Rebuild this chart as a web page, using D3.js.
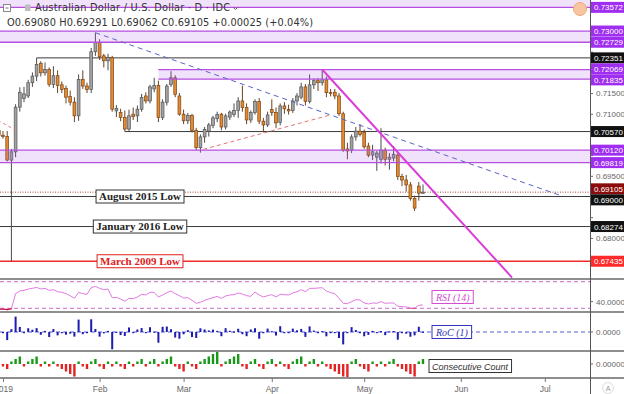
<!DOCTYPE html>
<html><head><meta charset="utf-8">
<script src="https://cdn.jsdelivr.net/npm/d3@7"></script>
<style>body{margin:0;background:#fff}svg{display:block}</style>
</head><body><svg id="c" width="624" height="394"></svg>
<script>
// ---------------- DATA ----------------
const firstIndex = -1; // trading-day index of first candle (Dec 31, 2018); 0 = Jan 1, 2019
const opens  = [0.7060,0.7048,0.7045,0.6988,0.7008,0.7116,0.7137,0.7143,0.7175,0.7191,0.7222,0.7199,0.7207,0.7171,0.7192,0.7170,0.7161,0.7142,0.7128,0.7095,0.7183,0.7167,0.7159,0.7250,0.7272,0.7240,0.7228,0.7236,0.7107,0.7103,0.7091,0.7063,0.7099,0.7095,0.7111,0.7143,0.7131,0.7160,0.7168,0.7091,0.7128,0.7171,0.7187,0.7143,0.7099,0.7083,0.7096,0.7060,0.7018,0.7044,0.7058,0.7072,0.7088,0.7099,0.7068,0.7092,0.7098,0.7108,0.7131,0.7115,0.7085,0.7103,0.7130,0.7082,0.7073,0.7110,0.7103,0.7079,0.7119,0.7110,0.7108,0.7131,0.7140,0.7165,0.7130,0.7170,0.7180,0.7175,0.7182,0.7151,0.7152,0.7143,0.7100,0.7015,0.7012,0.7044,0.7058,0.7055,0.7022,0.7000,0.6995,0.6990,0.7012,0.6990,0.6993,0.7000,0.6948,0.6940,0.6928,0.6895,0.6925,0.69080];
const highs  = [0.7068,0.7058,0.7058,0.7015,0.7123,0.7164,0.7165,0.7182,0.7200,0.7235,0.7227,0.7224,0.7212,0.7215,0.7205,0.7178,0.7168,0.7156,0.7140,0.7195,0.7205,0.7175,0.7259,0.7296,0.7280,0.7245,0.7245,0.7240,0.7121,0.7112,0.7108,0.7110,0.7115,0.7120,0.7148,0.7152,0.7170,0.7187,0.7180,0.7135,0.7172,0.7203,0.7193,0.7150,0.7110,0.7102,0.7100,0.7066,0.7050,0.7068,0.7078,0.7095,0.7105,0.7102,0.7100,0.7108,0.7125,0.7140,0.7168,0.7125,0.7108,0.7135,0.7138,0.7090,0.7105,0.7135,0.7115,0.7125,0.7128,0.7122,0.7138,0.7150,0.7175,0.7172,0.7195,0.7185,0.7186,0.7207,0.7190,0.7160,0.7160,0.7150,0.7105,0.7030,0.7050,0.7068,0.7075,0.7062,0.7030,0.7025,0.7010,0.7065,0.7018,0.7005,0.7022,0.7005,0.6955,0.6952,0.6935,0.6902,0.6935,0.69291];
const lows   = [0.7035,0.7040,0.6985,0.6744,0.6995,0.7105,0.7128,0.7138,0.7165,0.7179,0.7190,0.7192,0.7165,0.7162,0.7150,0.7150,0.7125,0.7120,0.7080,0.7083,0.7160,0.7150,0.7150,0.7240,0.7230,0.7212,0.7205,0.7105,0.7092,0.7082,0.7057,0.7058,0.7085,0.7080,0.7105,0.7125,0.7125,0.7152,0.7080,0.7085,0.7120,0.7165,0.7140,0.7095,0.7075,0.7075,0.7055,0.7012,0.7006,0.7030,0.7045,0.7065,0.7080,0.7060,0.7062,0.7085,0.7092,0.7090,0.7105,0.7075,0.7078,0.7098,0.7075,0.7055,0.7068,0.7095,0.7065,0.7072,0.7100,0.7098,0.7102,0.7120,0.7135,0.7120,0.7125,0.7160,0.7155,0.7168,0.7140,0.7142,0.7135,0.7095,0.7008,0.6990,0.7005,0.7035,0.7045,0.7015,0.6995,0.6988,0.6962,0.6980,0.6975,0.6965,0.6985,0.6940,0.6925,0.6912,0.6890,0.6865,0.6890,0.69062];
const closes = [0.7048,0.7045,0.6988,0.7008,0.7116,0.7152,0.7148,0.7175,0.7191,0.7219,0.7199,0.7207,0.7171,0.7192,0.7168,0.7159,0.7140,0.7128,0.7095,0.7183,0.7167,0.7159,0.7250,0.7272,0.7238,0.7228,0.7236,0.7111,0.7113,0.7091,0.7063,0.7095,0.7093,0.7111,0.7139,0.7131,0.7165,0.7168,0.7091,0.7128,0.7167,0.7187,0.7147,0.7099,0.7083,0.7096,0.7060,0.7018,0.7044,0.7062,0.7073,0.7090,0.7098,0.7068,0.7095,0.7104,0.7108,0.7131,0.7115,0.7085,0.7103,0.7130,0.7082,0.7073,0.7097,0.7103,0.7078,0.7119,0.7112,0.7107,0.7131,0.7143,0.7165,0.7130,0.7170,0.7180,0.7175,0.7182,0.7151,0.7149,0.7143,0.7100,0.7012,0.7010,0.7044,0.7058,0.7050,0.7020,0.7000,0.7008,0.7005,0.7012,0.6990,0.6995,0.7002,0.6948,0.6940,0.6928,0.6895,0.6872,0.6908,0.69105];
const rsiValues = [28.5,29,28,29.5,52,56,57,59,60,61.5,59,60,57,58,55,54,52,49,45,54,52,51,61,63,60,58,59,46,46.5,44,40.5,45,44.5,47,51,50,54,54,47,50,53.5,56,52,49,45.5,46,42,37.5,39,42,44,46,48,45,48.5,50,50.5,53,51.5,49,48,54.5,50,47,49,50.5,47,51,50.5,50,53,55,58,55,60,60,60.5,61,56,53.5,52,45,37.5,37,40,43,42.5,38,36.5,38,37.5,40,37.5,38,38,33,32.5,32,30.5,30.2,34.5,35];

const monthTickIndex  = [0,23,43,64,86,109,129];
const monthTickLabels = ["2019","Feb","Mar","Apr","May","Jun","Jul"];
const priceTickValues = [0.675,0.680,0.685,0.690,0.695,0.700,0.705,0.710,0.715,0.720,0.725,0.730,0.735];

// horizontal levels (value, first index)
const levelValues = [0.72351,0.70570,0.69000,0.68274];
const levelStarts = [8,29,-2,-2];
const closeLine = 0.69105;
const march2009Low = 0.67435;
// zones
const zoneTops    = [0.7380,0.73000,0.72069,0.70120];
const zoneBottoms = [0.73572,0.72729,0.71835,0.69819];
const zoneStarts  = [-2,-2,37,-2];
// trend lines [index, price]
const trendBlue    = [[22,0.7296],[132.6,0.6903]];
const trendMagenta = [[76,0.7207],[121.2,0.6704]];
const trendRedUp   = [[47.7,0.7014],[77.9,0.7097]];
const trendRedDown = [[-1.2,0.7084],[2.9,0.7061]];
// annotations
const annotationTexts  = ["August 2015 Low","January 2016 Low","March 2009 Low"];
const annotationValues = [0.69000,0.68274,0.67435];
// right-axis price tags
const tagValues = [0.73572,0.73000,0.72729,0.72351,0.72069,0.71835,0.70570,0.70120,0.69819,0.69105,0.69000,0.68274,0.67435];
const tagKinds  = ["zone","zone","zone","level","zone","zone","level","zone","zone","close","level","level","low"];
const headerTitle = "Australian Dollar / U.S. Dollar · D · IDC";
const headerOHLC  = "O0.69080  H0.69291  L0.69062  C0.69105  +0.00025 (+0.04%)";

// ---------------- CHART ----------------
const svg = d3.select("#c");
const PR = 590, W = 624;
const x = d3.scaleLinear().domain([0,100]).range([3,423]);
const yMain = d3.scaleLinear().domain([0.6703,0.7375]).range([278,0]);
const yRsi = d3.scaleLinear().domain([30,70]).range([308.3,281.7]);
const yRoc = d3.scaleLinear().domain([0,1]).range([332,322]);
const yCc  = d3.scaleLinear().domain([0,1]).range([364,361.5]);

const candles = opens.map((o,k)=>({i:firstIndex+k,o,h:highs[k],l:lows[k],c:closes[k]}));
const roc = candles.map((d,k)=> k===0?null:(d.c-candles[k-1].c)/candles[k-1].c*100);
const cc = []; candles.forEach((d,k)=>{ if(k===0){cc.push(0);return;}
  const p=candles[k-1].c, prev=cc[k-1];
  if(d.c>p) cc.push(prev>0?prev+1:1); else if(d.c<p) cc.push(prev<0?prev-1:-1); else cc.push(0); });

svg.append("rect").attr("width",W).attr("height",394).attr("fill","#fff");
const defs = svg.append("defs");
function clip(id,y0,h){defs.append("clipPath").attr("id",id).append("rect").attr("x",0).attr("y",y0).attr("width",PR).attr("height",h);}
clip("cm",0,278); clip("cr",280,31); clip("cro",313,37); clip("cc",352,25);
defs.append("clipPath").attr("id","crlow").append("rect").attr("x",0).attr("y",yRsi(30)).attr("width",PR).attr("height",20);

const gm = svg.append("g").attr("clip-path","url(#cm)");
levelValues.forEach((v,k)=>{
  gm.append("line").attr("x1",x(levelStarts[k])).attr("x2",PR).attr("y1",yMain(v)).attr("y2",yMain(v))
    .attr("stroke","#3a3a3a").attr("stroke-width",1);
});
gm.append("line").attr("x1",0).attr("x2",PR).attr("y1",yMain(closeLine)).attr("y2",yMain(closeLine))
  .attr("stroke","#a04a3a").attr("stroke-width",1).attr("stroke-dasharray","1,1.5");
gm.append("line").attr("x1",0).attr("x2",PR).attr("y1",yMain(march2009Low)).attr("y2",yMain(march2009Low))
  .attr("stroke","#ee2a2a").attr("stroke-width",1.5);

// candles
const cg = gm.append("g");
candles.forEach(d=>{
  const up = d.c>=d.o;
  const cx = x(d.i);
  cg.append("line").attr("x1",cx).attr("x2",cx).attr("y1",yMain(d.h)).attr("y2",yMain(d.l))
    .attr("stroke", up?"#4a4a4a":"#6a4220").attr("stroke-width",1);
  const yt=yMain(Math.max(d.o,d.c)), yb=yMain(Math.min(d.o,d.c));
  cg.append("rect").attr("x",cx-1.4).attr("y",yt).attr("width",2.8).attr("height",Math.max(0.8,yb-yt))
    .attr("fill", up?"#a3a3a3":"#e58a2e").attr("stroke", up?"#555":"#7a4515").attr("stroke-width",0.7);
});

// zones
zoneTops.forEach((t,k)=>{
  const x0=x(zoneStarts[k]);
  gm.append("rect").attr("x",x0).attr("y",yMain(t)).attr("width",PR-x0).attr("height",yMain(zoneBottoms[k])-yMain(t))
    .attr("fill","rgba(175,95,240,0.18)");
  if(k>0) gm.append("line").attr("x1",x0).attr("x2",PR).attr("y1",yMain(t)).attr("y2",yMain(t)).attr("stroke","#b64fe0").attr("stroke-width",1.3);
  gm.append("line").attr("x1",x0).attr("x2",PR).attr("y1",yMain(zoneBottoms[k])).attr("y2",yMain(zoneBottoms[k])).attr("stroke","#b64fe0").attr("stroke-width",1.3);
});

// trend lines
const tl = d3.line().x(d=>x(d[0])).y(d=>yMain(d[1]));
gm.append("path").attr("d",tl(trendBlue)).attr("fill","none").attr("stroke","#5b64c8").attr("stroke-width",1).attr("stroke-dasharray","5,4");
gm.append("path").attr("d",tl(trendRedUp)).attr("fill","none").attr("stroke","#e07878").attr("stroke-width",1).attr("stroke-dasharray","4,3");
gm.append("path").attr("d",tl(trendRedDown)).attr("fill","none").attr("stroke","#e07878").attr("stroke-width",1).attr("stroke-dasharray","3,3");
gm.append("path").attr("d",tl(trendMagenta)).attr("fill","none").attr("stroke","#d93ed6").attr("stroke-width",2);

// annotations
annotationTexts.forEach((t,k)=>{
  const g = svg.append("g");
  const isRed = k===2;
  const tx = g.append("text").attr("x",140).attr("y",yMain(annotationValues[k])+3.8).attr("text-anchor","middle")
    .attr("font-family","Liberation Serif, Times New Roman, serif").attr("font-weight","bold").attr("font-size",11)
    .attr("fill",isRed?"#e02020":"#222").text(t);
  const bb = tx.node().getBBox();
  g.insert("rect","text").attr("x",bb.x-3).attr("y",yMain(annotationValues[k])-6.5).attr("width",bb.width+6).attr("height",13)
    .attr("fill","#fff").attr("stroke",isRed?"#e02020":"#333").attr("stroke-width",1);
});

// header
const hg = svg.append("g");
hg.append("rect").attr("x",3.5).attr("y",4.5).attr("width",7).attr("height",7).attr("fill","#fff").attr("stroke","#888");
hg.append("line").attr("x1",5.5).attr("x2",8.5).attr("y1",8).attr("y2",8).attr("stroke","#777");
hg.append("rect").attr("x",25).attr("y",4.5).attr("width",5.5).attr("height",6.5).attr("fill","#bdbdbd");
hg.append("text").attr("x",35).attr("y",11).attr("font-family","DejaVu Sans, Verdana, sans-serif").attr("font-size",9.8)
  .attr("fill","#333").attr("textLength",195).attr("lengthAdjust","spacing").text(headerTitle);
hg.append("path").attr("d","M233,7 l2.5,2.5 l2.5,-2.5").attr("fill","none").attr("stroke","#666");
hg.append("text").attr("x",7).attr("y",26).attr("font-family","DejaVu Sans, Verdana, sans-serif").attr("font-size",9.8)
  .attr("fill","#333").attr("textLength",306).attr("lengthAdjust","spacing").text(headerOHLC);
svg.append("circle").attr("cx",580).attr("cy",9).attr("r",6.5).attr("fill","#f7c6a0").attr("stroke","#f2a978").attr("stroke-width",1);

// RSI panel
const rg = svg.append("g").attr("clip-path","url(#cr)");
[70,30].forEach(v=> rg.append("line").attr("x1",0).attr("x2",PR).attr("y1",yRsi(v)).attr("y2",yRsi(v))
  .attr("stroke","#d266d2").attr("stroke-width",1).attr("stroke-dasharray","4,3"));
const rl = d3.line().x((d,k)=>x(firstIndex+k)).y(d=>yRsi(d));
rg.append("path").attr("d",rl(rsiValues)).attr("fill","none").attr("stroke","#e07ae0").attr("stroke-width",1);
rg.append("g").attr("clip-path","url(#crlow)").append("path").attr("d",rl(rsiValues)).attr("fill","none").attr("stroke","#d0103a").attr("stroke-width",1.3);

// RoC panel
const og = svg.append("g").attr("clip-path","url(#cro)");
og.append("line").attr("x1",0).attr("x2",PR).attr("y1",yRoc(0)).attr("y2",yRoc(0)).attr("stroke","#5a5ad8").attr("stroke-width",1).attr("stroke-dasharray","4,3");
candles.forEach((d,k)=>{ if(roc[k]===null) return;
  const y0=yRoc(0), y1=yRoc(roc[k]);
  og.append("rect").attr("x",x(d.i)-1).attr("y",Math.min(y0,y1)).attr("width",2).attr("height",Math.max(1.2,Math.abs(y1-y0))).attr("fill","#1c1cb0");
});

// Consecutive count panel
const kg = svg.append("g").attr("clip-path","url(#cc)");
candles.forEach((d,k)=>{ if(k===0||cc[k]===0) return;
  const y0=yCc(0), y1=yCc(cc[k]);
  kg.append("rect").attr("x",x(d.i)-1.2).attr("y",Math.min(y0,y1)).attr("width",2.4).attr("height",Math.abs(y1-y0))
    .attr("fill", cc[k]>0?"#189a18":"#e42222");
});

// legend labels
function legend(cx,cy,txt,col,fam,fs){
  const g=svg.append("g");
  const t=g.append("text").attr("x",cx).attr("y",cy+3.5).attr("font-family",fam).attr("font-style","italic").attr("font-size",fs).attr("fill",col).text(txt);
  const bb=t.node().getBBox();
  g.insert("rect","text").attr("x",bb.x-3).attr("y",cy-6.5).attr("width",bb.width+6).attr("height",13).attr("fill","#fff").attr("stroke",col).attr("stroke-width",1);
}
legend(436,297,"RSI (14)","#d54cd5","Liberation Serif, Times New Roman, serif",10);
legend(436,332,"RoC (1)","#3535b8","Liberation Serif, Times New Roman, serif",10);
legend(432,366,"Consecutive Count","#333","Liberation Sans, Arial, sans-serif",9);

// separators & axes
[279,312,351,378].forEach(y=> svg.append("line").attr("x1",0).attr("x2",W).attr("y1",y).attr("y2",y).attr("stroke","#8e8e8e").attr("stroke-width",2));
svg.append("line").attr("x1",PR+0.5).attr("x2",PR+0.5).attr("y1",0).attr("y2",394).attr("stroke","#555").attr("stroke-width",1);

// colored price tags with overlap avoidance
const tags = tagValues.map((v,k)=>({v,kind:tagKinds[k],y:yMain(v)})).sort((a,b)=>a.y-b.y);
for(let it=0;it<60;it++){ for(let k=1;k<tags.length;k++){ const d=tags[k].y-tags[k-1].y; if(d<11){const s=(11-d)/2; tags[k].y+=s; tags[k-1].y-=s;} } }

// grey price ticks: label shown only where no tag covers it
const visibleTicks = priceTickValues.filter(v=> tags.every(t=>Math.abs(t.y-yMain(v))>9.5));
const ax = svg.append("g").attr("transform",`translate(${PR},0)`)
  .call(d3.axisRight(yMain).tickValues(priceTickValues).tickFormat(v=> visibleTicks.includes(v)?d3.format(".5f")(v):"").tickSize(3).tickPadding(3));
ax.select(".domain").remove();
ax.selectAll("text").attr("font-family","Liberation Sans, Arial, sans-serif").attr("font-size",8).attr("fill","#666");
ax.selectAll("line").attr("stroke","#666");

const tagBg={zone:"#9f2ef0",level:"#111",close:"#8a0c0c",low:"#ff2a2a"};
tags.forEach(t=>{
  svg.append("rect").attr("x",PR+1).attr("y",t.y-5.5).attr("width",W-PR-1).attr("height",11).attr("fill",tagBg[t.kind]);
  svg.append("text").attr("x",PR+4).attr("y",t.y+3).attr("font-family","Liberation Sans, Arial, sans-serif").attr("font-size",8)
    .attr("fill","#fff").text(d3.format(".5f")(t.v));
});

// lower panel axis labels
const lowerLabelValues=[[yRsi(40),"40.0000"],[yRoc(0),"0.0000"],[yCc(0),"0.00000"]];
lowerLabelValues.forEach(([y,t])=>{
  svg.append("line").attr("x1",PR).attr("x2",PR+3).attr("y1",y).attr("y2",y).attr("stroke","#666");
  svg.append("text").attr("x",PR+6).attr("y",y+3).attr("font-family","Liberation Sans, Arial, sans-serif").attr("font-size",8).attr("fill","#666").text(t);
});

// x axis
const xa = svg.append("g").attr("transform","translate(0,378)")
  .call(d3.axisBottom(x).tickValues(monthTickIndex).tickFormat((d,k)=>monthTickLabels[k]).tickSize(4).tickPadding(4));
xa.select(".domain").remove();
xa.selectAll("line").attr("stroke","#777");
xa.selectAll("text").attr("font-family","Liberation Sans, Arial, sans-serif").attr("font-size",8.5).attr("fill","#666");
svg.append("circle").attr("cx",608).attr("cy",388).attr("r",5.5).attr("fill","#fff").attr("stroke","#ddd");
svg.append("text").attr("x",608).attr("y",391).attr("text-anchor","middle").attr("font-family","Liberation Sans, Arial, sans-serif").attr("font-size",7).attr("fill","#999").text("A");
</script></body></html>
